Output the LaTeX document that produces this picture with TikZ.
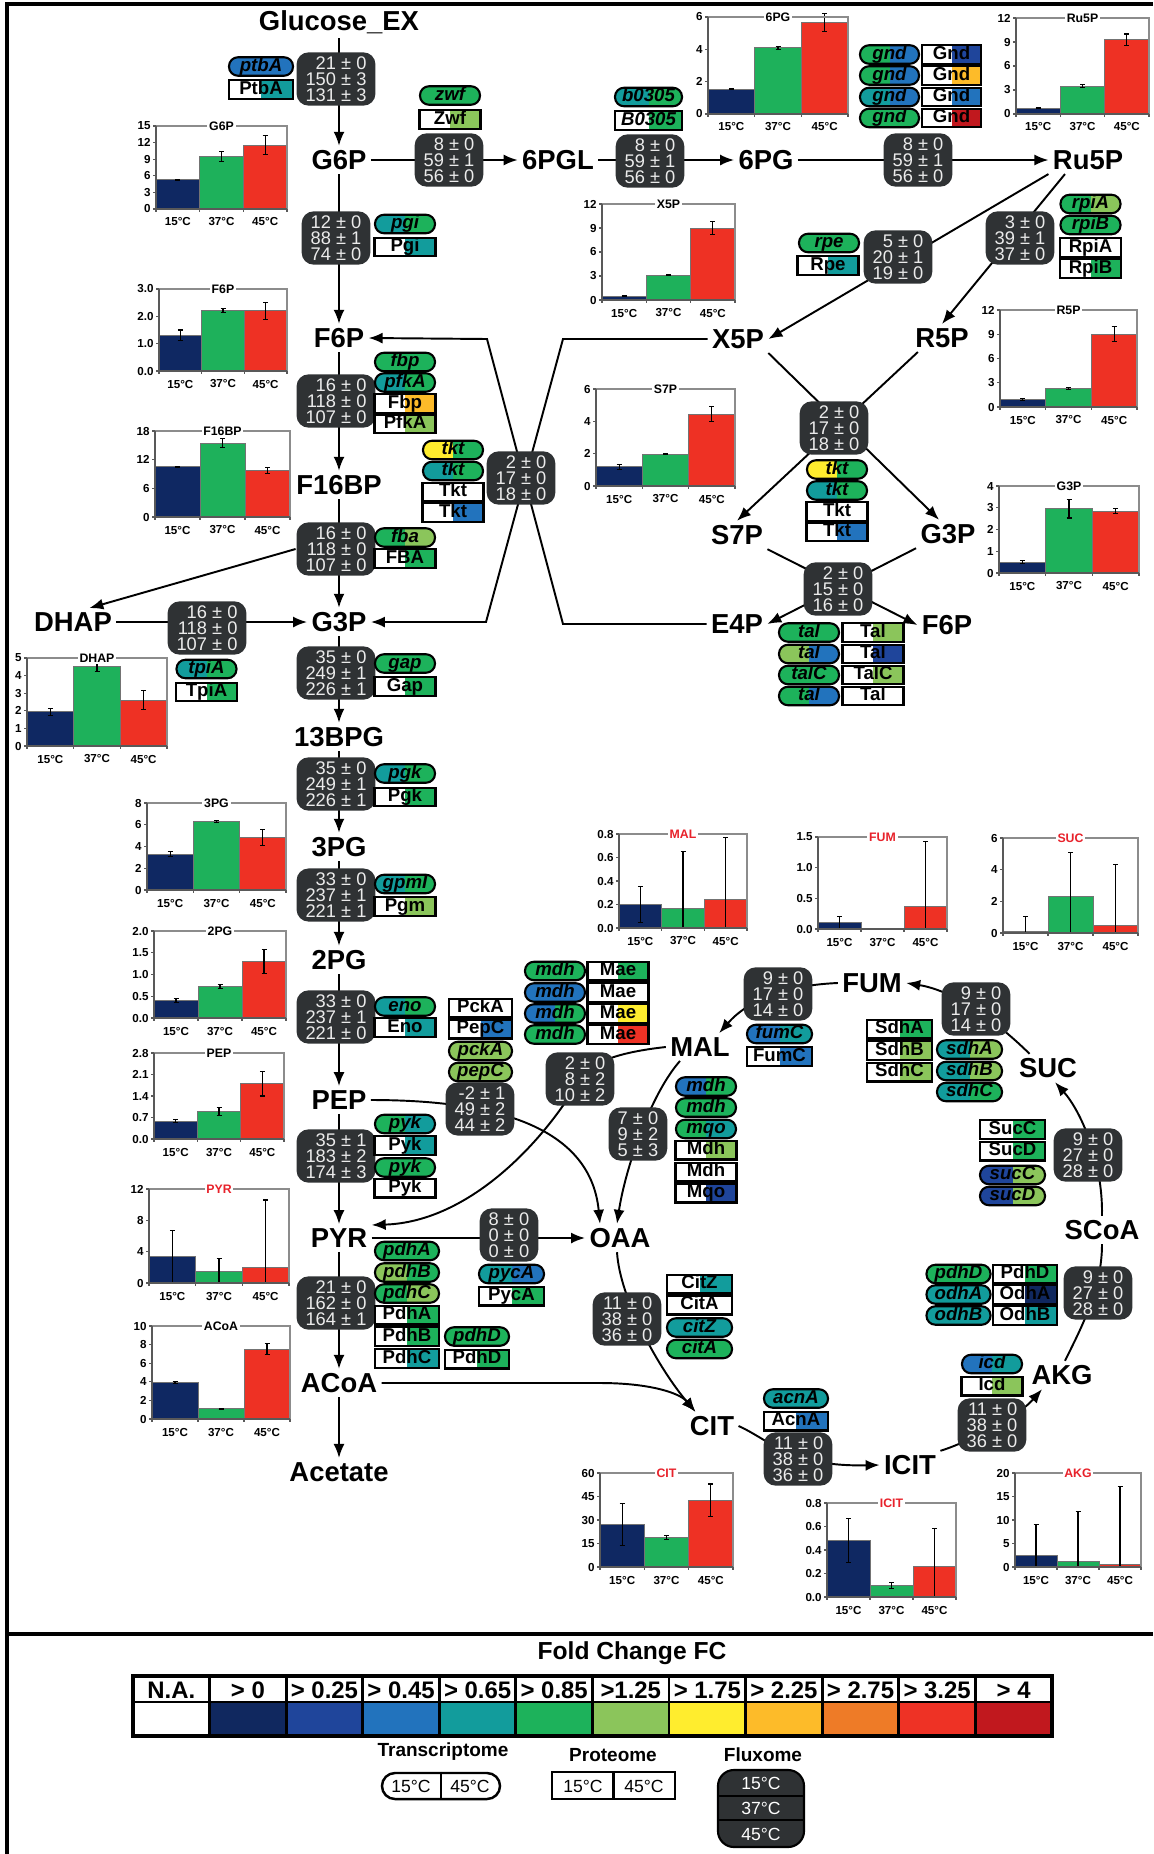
\documentclass[tikz,border=0pt]{standalone}
\usepackage{fontspec}
\setmainfont{Liberation Sans}
\usetikzlibrary{arrows.meta}

\definecolor{c0}{HTML}{10285F}
\definecolor{c1}{HTML}{1F459B}
\definecolor{c2}{HTML}{2273BD}
\definecolor{c3}{HTML}{129C9C}
\definecolor{c4}{HTML}{1DB25B}
\definecolor{c5}{HTML}{8BC55B}
\definecolor{c6}{HTML}{FFED2E}
\definecolor{c7}{HTML}{FDBB29}
\definecolor{c8}{HTML}{EE7B27}
\definecolor{c9}{HTML}{EE3225}
\definecolor{c10}{HTML}{C1181E}
\definecolor{c15}{HTML}{0F2862}
\definecolor{c37}{HTML}{1EB15B}
\definecolor{c45}{HTML}{EE3124}
\definecolor{fluxgray}{HTML}{2F3234}
\definecolor{titlered}{HTML}{E8222B}

% bar chart: title, x0, ytop, x1, ybot, ymax, ticks, bars v/e, title colour
\newcommand{\barchart}[9]{%
  \pgfmathsetmacro{\bw}{(#4-#2)/3}%
  \pgfmathsetmacro{\bh}{#5-#3}%
  \foreach \v/\e [count=\k from 0] in {#8} {%
    \pgfmathsetmacro{\xa}{#2+\k*\bw}%
    \pgfmathsetmacro{\xb}{\xa+\bw}%
    \pgfmathsetmacro{\xm}{\xa+\bw/2}%
    \pgfmathsetmacro{\yv}{#5-\v/#6*\bh}%
    \pgfmathsetmacro{\ylo}{#5-max(\v-\e,0)/#6*\bh}%
    \pgfmathsetmacro{\yhi}{#5-(\v+\e)/#6*\bh}%
    \ifcase\k\relax \def\bc{c15}\or \def\bc{c37}\else \def\bc{c45}\fi
    \filldraw[fill=\bc, draw=black!55, line width=0.25pt] (\xa,#5) rectangle (\xb,\yv);
    \draw[line width=0.3pt] (\xm,\ylo) -- (\xm,\yhi) (\xm-2.5,\ylo) -- (\xm+2.5,\ylo) (\xm-2.5,\yhi) -- (\xm+2.5,\yhi);
    \draw[chartaxis] (\xa,#5) -- (\xa,#5+3) (\xb,#5) -- (\xb,#5+3);
    \node[cticks] (#1-x\k) at (\xm,#5+13) {\ifcase\k\relax 15\or 37\else 45\fi°C};
  }%
  \draw[chartframe] (#2,#3) -- (#4,#3) -- (#4,#5);
  \draw[chartaxis] (#2,#3) -- (#2,#5) -- (#4,#5);
  \foreach \t [count=\j] in {#7} {%
    \pgfmathsetmacro{\yt}{#5-\t/#6*\bh}%
    \draw[chartaxis] (#2-3,\yt) -- (#2,\yt);
    \node[cticks, anchor=east] (#1-y\j) at (#2-3,\yt) {\t};
  }%
  \node[ctitle, text=#9] (chart-#1) at ({(#2+#4)/2},#3) {#1};
}

\begin{document}
\begin{tikzpicture}[
    x=0.01cm, y=-0.01cm,
    >={Latex[length=1.4mm,width=1.1mm]},
    line width=0.55pt,
    met/.style={font=\fontsize{7.8}{9}\selectfont\bfseries, inner sep=1pt},
    flux/.style={fill=fluxgray, rounded corners=1.2mm, text=white!92!black, align=right,
      inner xsep=0.9mm, inner ysep=0.4mm, minimum height=5.3mm, font=\fontsize{5.2}{4.6}\selectfont},
    halves/.style 2 args={path picture={
      \fill[#1, sharp corners] (path picture bounding box.south west) rectangle (path picture bounding box.north);
      \fill[#2, sharp corners] (path picture bounding box.south) rectangle (path picture bounding box.north east);}},
    gene/.style 2 args={draw, line width=0.6pt, rounded corners=0.9mm, minimum width=6mm, minimum height=1.85mm,
      inner sep=0pt, text height=3.8pt, text depth=1.1pt, halves={#1}{#2}, font=\fontsize{5.3}{5.3}\selectfont\bfseries\itshape},
    prot/.style 2 args={draw, line width=0.7pt, minimum width=6.1mm, minimum height=1.85mm,
      inner sep=0pt, text height=3.8pt, text depth=1.1pt, halves={#1}{#2}, font=\fontsize{5.3}{5.3}\selectfont\bfseries},
    cticks/.style={font=\fontsize{3.3}{3.5}\selectfont\bfseries, inner sep=0.4pt},
    ctitle/.style={font=\fontsize{3.5}{3.7}\selectfont\bfseries, fill=white, inner sep=0.5pt},
    chartframe/.style={draw=black!45, line width=0.3pt},
    chartaxis/.style={draw=black!65, line width=0.35pt},
    legtext/.style={font=\fontsize{6.8}{7}\selectfont\bfseries, inner sep=0pt},
    legsub/.style={font=\fontsize{5.4}{6}\selectfont\bfseries, inner sep=0pt},
    legsmall/.style={font=\fontsize{5}{5}\selectfont, inner sep=0pt},
  ]
  \useasboundingbox (0,0) rectangle (1153,1854);
  \draw[line width=0.9pt] (7,1854) -- (7,4) -- (1153,4);
  \draw[line width=0.9pt] (7,1634) -- (1153,1634);

  % metabolite concentration charts
  \barchart{G6P}{156}{126}{287}{209}{15}{0,3,6,9,12,15}{5.3/0.1,9.5/0.9,11.5/1.7}{black}
  \barchart{F6P}{159}{289}{287}{371}{3}{0.0,1.0,2.0,3.0}{1.3/0.2,2.2/0.07,2.2/0.3}{black}
  \barchart{F16BP}{155}{431}{290}{517}{18}{0,6,12,18}{10.5/0.1,15.5/1.0,9.8/0.6}{black}
  \barchart{DHAP}{27}{658}{167}{746}{5}{0,1,2,3,4,5}{1.95/0.2,4.5/0.25,2.6/0.55}{black}
  \barchart{3PG}{147}{803}{286}{890}{8}{0,2,4,6,8}{3.3/0.2,6.3/0.12,4.8/0.75}{black}
  \barchart{2PG}{154}{931}{286}{1018}{2}{0.0,0.5,1.0,1.5,2.0}{0.4/0.05,0.73/0.05,1.3/0.28}{black}
  \barchart{PEP}{154}{1053}{284}{1139}{2.8}{0.0,0.7,1.4,2.1,2.8}{0.58/0.05,0.9/0.12,1.8/0.4}{black}
  \barchart{PYR}{149}{1189}{289}{1283}{12}{0,4,8,12}{3.4/3.3,1.5/1.6,2.0/8.6}{titlered}
  \barchart{ACoA}{152}{1326}{290}{1419}{10}{0,2,4,6,8,10}{3.9/0.1,1.1/0.05,7.5/0.6}{black}
  \barchart{6PG}{708}{17}{848}{114}{6}{0,2,4,6}{1.55/0.03,4.1/0.1,5.65/0.55}{black}
  \barchart{Ru5P}{1016}{18}{1149}{114}{12}{0,3,6,9,12}{0.7/0.05,3.5/0.2,9.3/0.7}{black}
  \barchart{X5P}{602}{204}{735}{300}{12}{0,3,6,9,12}{0.5/0.02,3.1/0.05,9.0/0.8}{black}
  \barchart{R5P}{1000}{310}{1137}{407}{12}{0,3,6,9,12}{0.9/0.1,2.3/0.1,9.0/0.95}{black}
  \barchart{S7P}{596}{389}{735}{486}{6}{0,2,4,6}{1.2/0.15,1.95/0.03,4.45/0.45}{black}
  \barchart{G3P}{999}{486}{1139}{573}{4}{0,1,2,3,4}{0.5/0.07,2.95/0.42,2.85/0.12}{black}
  \barchart{MAL}{619}{834}{747}{928}{0.8}{0.0,0.2,0.4,0.6,0.8}{0.2/0.15,0.17/0.48,0.24/0.53}{titlered}
  \barchart{FUM}{818}{837}{947}{929}{1.5}{0.0,0.5,1.0,1.5}{0.1/0.11,0.0/0.0,0.36/1.06}{titlered}
  \barchart{SUC}{1003}{838}{1138}{933}{6}{0,2,4,6}{0.1/0.95,2.3/2.8,0.45/3.85}{titlered}
  \barchart{CIT}{600}{1473}{733}{1567}{60}{0,15,30,45,60}{27/13.5,18.8/1.5,42.5/10.5}{titlered}
  \barchart{ICIT}{827}{1503}{956}{1597}{0.8}{0.0,0.2,0.4,0.6,0.8}{0.48/0.19,0.095/0.025,0.26/0.32}{titlered}
  \barchart{AKG}{1015}{1473}{1141}{1567}{20}{0,5,10,15,20}{2.4/6.7,1.2/10.7,0.55/16.5}{titlered}

  % metabolites
  \node[met] (glc)   at (339,22)   {Glucose\_EX};
  \node[met] (G6P)   at (339,160)  {G6P};
  \node[met] (PGL)   at (558,160)  {6PGL};
  \node[met] (PG6)   at (766,160)  {6PG};
  \node[met] (Ru5P)  at (1088,160) {Ru5P};
  \node[met] (X5P)   at (738,339)  {X5P};
  \node[met] (R5P)   at (942,338)  {R5P};
  \node[met] (F6P)   at (339,338)  {F6P};
  \node[met] (F16BP) at (339,485)  {F16BP};
  \node[met] (S7P)   at (737,535)  {S7P};
  \node[met] (G3Pr)  at (948,534)  {G3P};
  \node[met] (DHAP)  at (73,622)   {DHAP};
  \node[met] (G3P)   at (339,622)  {G3P};
  \node[met] (E4P)   at (737,624)  {E4P};
  \node[met] (F6Pr)  at (947,625)  {F6P};
  \node[met] (BPG)   at (339,737)  {13BPG};
  \node[met] (PG3)   at (339,847)  {3PG};
  \node[met] (PG2)   at (339,960)  {2PG};
  \node[met] (PEP)   at (339,1100) {PEP};
  \node[met] (MAL)   at (700,1047) {MAL};
  \node[met] (FUM)   at (872,983)  {FUM};
  \node[met] (SUC)   at (1048,1068) {SUC};
  \node[met] (PYR)   at (339,1238) {PYR};
  \node[met] (OAA)   at (620,1238) {OAA};
  \node[met] (SCoA)  at (1102,1230) {SCoA};
  \node[met] (ACoA)  at (339,1383) {ACoA};
  \node[met] (AKG)   at (1062,1375) {AKG};
  \node[met] (CIT)   at (712,1426) {CIT};
  \node[met] (ICIT)  at (910,1465) {ICIT};
  \node[met] (Acet)  at (339,1472) {Acetate};

  % reactions
  \foreach \a/\b in {glc/G6P, G6P/PGL, PGL/PG6, PG6/Ru5P, G6P/F6P, F6P/F16BP, F16BP/G3P, DHAP/G3P,
      G3P/BPG, BPG/PG3, PG3/PG2, PG2/PEP, PEP/PYR, PYR/ACoA, ACoA/Acet, PYR/OAA}
    \draw[->] (\a) -- (\b);
  \draw[->] (Ru5P.south west) -- (X5P.east);
  \draw[->] ([xshift=-2.3mm]Ru5P.south) -- (R5P.north);
  \draw[->] (X5P.south east) -- ([xshift=2.3mm]G3Pr.north west);
  \draw[->] ([xshift=0.7mm]R5P.south west) -- (S7P.north);
  \draw[->] (S7P.south east) -- (F6Pr.west);
  \draw[->] (G3Pr.south west) -- (E4P.east);
  \coordinate (tkA) at (563,339);
  \coordinate (tkB) at (486,622);
  \coordinate (tkC) at (563,624);
  \coordinate (tkD) at (487,339);
  \draw[->] (X5P.west) -- (tkA) -- (tkB) -- (G3P.east);
  \draw[->] (E4P.west) -- (tkC) -- (tkD) -- (F6P.east);
  \draw[->] (PEP.east) .. controls (480,1100) and (590,1120) .. ([xshift=-2mm]OAA.north);
  \draw[->] (MAL.west) .. controls (620,1052) and (590,1062) .. (580,1079)
    .. controls (545,1140) and (470,1222) .. ([yshift=1.3mm]PYR.east);
  \draw[->] ([xshift=-2mm]MAL.south) .. controls (650,1095) and (625,1170) .. ([xshift=-0.3mm]OAA.north);
  \draw[->] ([xshift=-0.3mm]OAA.south) .. controls (620,1300) and (660,1370) .. ([xshift=1mm]CIT.north west);
  \draw[->] (ACoA.east) -- (600,1383) .. controls (650,1383) and (680,1393) .. ([xshift=1mm]CIT.north west);
  \draw[->] (CIT.east) .. controls (770,1440) and (790,1467) .. (ICIT.west);
  \draw[->] (ICIT.north east) .. controls (960,1445) and (1015,1420) .. ([xshift=1.5mm]AKG.south west);
  \draw ([xshift=0.3mm]AKG.north) .. controls (1080,1330) and (1102,1290) .. (SCoA.south);
  \draw[->] (SCoA.north) .. controls (1103,1160) and (1080,1110) .. ([xshift=0.7mm]SUC.south);
  \draw[->] ([xshift=1.5mm]SUC.north west) .. controls (990,1015) and (950,990) .. (FUM.east);
  \draw[->] (FUM.west) .. controls (790,985) and (750,998) .. ([xshift=-1.5mm]MAL.north east);

  % fluxes 15/37/45 C
  \node[flux] (fxpts) at (336,79)    {21 ± 0\\150 ± 3\\131 ± 3};
  \node[flux] (fxpgi) at (336,238)   {12 ± 0\\88 ± 1\\74 ± 0};
  \node[flux] (fxpfk) at (336,401)   {16 ± 0\\118 ± 0\\107 ± 0};
  \node[flux] (fxfba) at (336,549)   {16 ± 0\\118 ± 0\\107 ± 0};
  \node[flux] (fxtpi) at (207,628)   {16 ± 0\\118 ± 0\\107 ± 0};
  \node[flux] (fxgap) at (336,673)   {35 ± 0\\249 ± 1\\226 ± 1};
  \node[flux] (fxpgk) at (336,784)   {35 ± 0\\249 ± 1\\226 ± 1};
  \node[flux] (fxpgm) at (336,895)   {33 ± 0\\237 ± 1\\221 ± 1};
  \node[flux] (fxeno) at (336,1017)  {33 ± 0\\237 ± 1\\221 ± 0};
  \node[flux] (fxpyk) at (336,1156)  {35 ± 1\\183 ± 2\\174 ± 3};
  \node[flux] (fxpdh) at (336,1303)  {21 ± 0\\162 ± 0\\164 ± 1};
  \node[flux] (fxzwf) at (449,160)   {8 ± 0\\59 ± 1\\56 ± 0};
  \node[flux] (fxpgl) at (650,161)   {8 ± 0\\59 ± 1\\56 ± 0};
  \node[flux] (fxgnd) at (918,160)   {8 ± 0\\59 ± 1\\56 ± 0};
  \node[flux] (fxrpe) at (898,257)   {5 ± 0\\20 ± 1\\19 ± 0};
  \node[flux] (fxrpi) at (1020,238)  {3 ± 0\\39 ± 1\\37 ± 0};
  \node[flux] (fxtkA) at (521,478)   {2 ± 0\\17 ± 0\\18 ± 0};
  \node[flux] (fxtkB) at (834,428)   {2 ± 0\\17 ± 0\\18 ± 0};
  \node[flux] (fxtal) at (838,589)   {2 ± 0\\15 ± 0\\16 ± 0};
  \node[flux] (fxppc) at (480,1109)  {-2 ± 1\\49 ± 2\\44 ± 2};
  \node[flux] (fxmae) at (580,1079)  {2 ± 0\\8 ± 2\\10 ± 2};
  \node[flux] (fxpyc) at (509,1235)  {8 ± 0\\0 ± 0\\0 ± 0};
  \node[flux] (fxmdh) at (638,1134)  {7 ± 0\\9 ± 2\\5 ± 3};
  \node[flux] (fxfum) at (778,994)   {9 ± 0\\17 ± 0\\14 ± 0};
  \node[flux] (fxsdh) at (976,1009)  {9 ± 0\\17 ± 0\\14 ± 0};
  \node[flux] (fxsuc) at (1088,1155) {9 ± 0\\27 ± 0\\28 ± 0};
  \node[flux] (fxodh) at (1098,1293) {9 ± 0\\27 ± 0\\28 ± 0};
  \node[flux] (fxicd) at (992,1425)  {11 ± 0\\38 ± 0\\36 ± 0};
  \node[flux] (fxacn) at (798,1459)  {11 ± 0\\38 ± 0\\36 ± 0};
  \node[flux] (fxcs)  at (627,1319)  {11 ± 0\\38 ± 0\\36 ± 0};
  \draw[->] (fxfba.west) -- ([xshift=-2.7mm]DHAP.north east);

  % transcripts (pills) and proteins (boxes), 15 C left / 45 C right
  \node[gene={c2}{c2}, minimum width=6.4mm] (ptbA) at (261,66.5) {ptbA};
  \node[prot={white}{c3}, minimum width=6.4mm] (PtbA) at (261,89.5) {PtbA};
  \node[gene={c4}{c4}] (zwf) at (450,95.5) {zwf};
  \node[prot={white}{c5}] (Zwf) at (450,119.5) {Zwf};
  \node[gene={c3}{c4}, minimum width=6.7mm] (b0305) at (648.5,97) {b0305};
  \node[prot={white}{c4}, minimum width=6.7mm] (B0305) at (648.5,120.5) {\itshape B0305};
  \foreach \y/\ga/\gb/\pb [count=\i] in {54.5/c4/c2/c1, 75.5/c4/c2/c7, 97/c3/c2/c2, 118/c4/c4/c10} {
    \node[gene={\ga}{\gb}, minimum width=5.9mm] (gnd\i) at (889.5,\y) {gnd};
    \node[prot={white}{\pb}, minimum width=5.9mm] (Gnd\i) at (951.5,\y) {Gnd};
  }
  \node[gene={c4}{c4}] (rpe) at (829,243) {rpe};
  \node[prot={white}{c3}] (Rpe) at (828,265.5) {Rpe};
  \node[gene={c4}{c5}] (rpiA) at (1090.5,204) {rpiA};
  \node[gene={c4}{c4}] (rpiB) at (1090.5,225) {rpiB};
  \node[prot={white}{white}] (RpiA) at (1090.5,247.5) {RpiA};
  \node[prot={white}{c4}] (RpiB) at (1090.5,268.5) {RpiB};
  \node[gene={c3}{c4}] (pgi) at (405,224) {pgi};
  \node[prot={white}{c3}] (Pgi) at (405,247) {Pgi};
  \node[gene={c4}{c4}] (fbp) at (405,362) {fbp};
  \node[gene={c3}{c4}] (pfkA) at (405,382.5) {pfkA};
  \node[prot={white}{c7}] (Fbp) at (405,403.5) {Fbp};
  \node[prot={white}{c5}] (PfkA) at (405,424) {PfkA};
  \foreach \x/\n/\yo in {453/A/0, 837/B/19.5} {
    \node[gene={c6}{c4}] (tktA\n) at (\x,450+\yo) {tkt};
    \node[gene={c3}{c4}] (tktB\n) at (\x,471+\yo) {tkt};
    \node[prot={white}{white}] (TktA\n) at (\x,492+\yo) {Tkt};
    \node[prot={white}{c2}] (TktB\n) at (\x,512.5+\yo) {Tkt};
  }
  \node[gene={c4}{c5}] (fba) at (405,537.5) {fba};
  \node[prot={white}{c4}] (FBA) at (405,558.5) {FBA};
  \node[gene={c3}{c4}] (tpiA) at (206.5,669) {tpiA};
  \node[prot={white}{c4}] (TpiA) at (206.5,692) {TpiA};
  \foreach \y/\t/\ga/\gb/\pb [count=\i] in {632.5/tal/c4/c4/c5, 654/tal/c5/c2/c1, 675/talC/c4/c4/c5, 696/tal/c4/c2/white} {
    \node[gene={\ga}{\gb}] (tal\i) at (809,\y) {\t};
    \node[prot={white}{\pb}] (Tal\i) at (873,\y) {\ifnum\i=3 TalC\else Tal\fi};
  }
  \node[gene={c4}{c4}] (gap) at (405,663.5) {gap};
  \node[prot={white}{c4}] (Gap) at (405,686.5) {Gap};
  \node[gene={c3}{c4}] (pgk) at (405,773.5) {pgk};
  \node[prot={white}{c4}] (Pgk) at (405,797) {Pgk};
  \node[gene={c3}{c4}] (gpmI) at (405,884) {gpmI};
  \node[prot={white}{c5}] (Pgm) at (405,906.5) {Pgm};
  \node[gene={c3}{c4}] (eno) at (405,1006.5) {eno};
  \node[prot={white}{c3}] (Eno) at (405,1027.5) {Eno};
  \node[gene={c4}{c3}] (pyk1) at (405,1124) {pyk};
  \node[prot={white}{c3}] (Pyk1) at (405,1145.5) {Pyk};
  \node[gene={c4}{c4}] (pyk2) at (405,1167.5) {pyk};
  \node[prot={white}{white}] (Pyk2) at (405,1188) {Pyk};
  \node[prot={white}{white}, minimum width=6.3mm] (PckA) at (480.5,1008) {PckA};
  \node[prot={white}{c2}, minimum width=6.3mm] (PepC) at (480.5,1029) {PepC};
  \node[gene={c5}{c5}, minimum width=6.3mm] (pckA) at (480.5,1051) {pckA};
  \node[gene={c5}{c5}, minimum width=6.3mm] (pepC) at (480.5,1072) {pepC};
  \foreach \y/\ga/\gb/\pb [count=\i] in {971/c4/c4/c4, 992.5/c2/c2/white, 1013.5/c2/c4/c6, 1034.5/c4/c4/c9} {
    \node[gene={\ga}{\gb}] (mdhM\i) at (555,\y) {mdh};
    \node[prot={white}{\pb}] (Mae\i) at (618,\y) {Mae};
  }
  \node[gene={c2}{c4}] (mdh1) at (706,1086.5) {mdh};
  \node[gene={c4}{c4}] (mdh2) at (706,1107.5) {mdh};
  \node[gene={c4}{c3}] (mqo) at (706,1129) {mqo};
  \node[prot={white}{c5}] (Mdh1) at (706,1150) {Mdh};
  \node[prot={white}{white}] (Mdh2) at (706,1172) {Mdh};
  \node[prot={white}{c1}] (Mqo) at (706,1193) {Mqo};
  \node[gene={c4}{c4}, minimum width=6.4mm] (pdhA) at (407,1251) {pdhA};
  \node[gene={c5}{c4}, minimum width=6.4mm] (pdhB) at (407,1272.5) {pdhB};
  \node[gene={c4}{c5}, minimum width=6.4mm] (pdhC) at (407,1293.5) {pdhC};
  \node[prot={white}{c4}, minimum width=6.4mm] (PdhA) at (407,1315) {PdhA};
  \node[prot={white}{c4}, minimum width=6.4mm] (PdhB) at (407,1336.5) {PdhB};
  \node[prot={white}{c3}, minimum width=6.4mm] (PdhC) at (407,1358.5) {PdhC};
  \node[gene={c4}{c4}, minimum width=6.4mm] (pdhD) at (477,1336.5) {pdhD};
  \node[prot={white}{c4}, minimum width=6.4mm] (PdhD) at (477,1359) {PdhD};
  \node[gene={c3}{c2}, minimum width=6.5mm] (pycA) at (511.5,1274) {pycA};
  \node[prot={white}{c4}, minimum width=6.5mm] (PycA) at (511.5,1296) {PycA};
  \node[prot={white}{c3}, minimum width=6.5mm] (CitZ) at (699.5,1284) {CitZ};
  \node[prot={white}{white}, minimum width=6.5mm] (CitA) at (699.5,1305) {CitA};
  \node[gene={c3}{c3}, minimum width=6.5mm] (citZ) at (699.5,1327.5) {citZ};
  \node[gene={c4}{c4}, minimum width=6.5mm] (citA) at (699.5,1349) {citA};
  \node[gene={c3}{c3}, minimum width=6.4mm] (acnA) at (796,1398.5) {acnA};
  \node[prot={white}{c2}, minimum width=6.4mm] (AcnA) at (796,1421) {AcnA};
  \node[gene={c2}{c3}] (icd) at (992,1364) {icd};
  \node[prot={white}{c5}] (Icd) at (992,1386) {Icd};
  \foreach \y/\g/\p/\ga/\pb [count=\i] in {1274/pdhD/PdhD/c4/c4, 1294.5/odhA/OdhA/c3/c0, 1315.5/odhB/OdhB/c3/c3} {
    \node[gene={\ga}{\ga}, minimum width=6.4mm] (odh\i) at (958.5,\y) {\g};
    \node[prot={white}{\pb}, minimum width=6.4mm] (Odh\i) at (1025,\y) {\p};
  }
  \node[prot={white}{c4}, minimum width=6.5mm] (SucC) at (1012.5,1129.5) {SucC};
  \node[prot={white}{c4}, minimum width=6.5mm] (SucD) at (1012.5,1151) {SucD};
  \node[gene={c1}{c5}, minimum width=6.5mm] (sucC) at (1012.5,1175) {sucC};
  \node[gene={c1}{c5}, minimum width=6.5mm] (sucD) at (1012.5,1196) {sucD};
  \node[prot={white}{c4}, minimum width=6.5mm] (SdhA) at (899.5,1029) {SdhA};
  \node[prot={white}{c5}, minimum width=6.5mm] (SdhB) at (899.5,1050.5) {SdhB};
  \node[prot={white}{c5}, minimum width=6.5mm] (SdhC) at (899.5,1072) {SdhC};
  \node[gene={c3}{c5}, minimum width=6.5mm] (sdhA) at (969.5,1049.5) {sdhA};
  \node[gene={c3}{c5}, minimum width=6.5mm] (sdhB) at (969.5,1071) {sdhB};
  \node[gene={c3}{c4}, minimum width=6.5mm] (sdhC) at (969.5,1092) {sdhC};
  \node[gene={c2}{c3}, minimum width=6.5mm] (fumC) at (779.5,1034) {fumC};
  \node[prot={white}{c2}, minimum width=6.5mm] (FumC) at (779.5,1056.5) {FumC};

  % legend
  \node[font=\fontsize{7}{7}\selectfont\bfseries] (fctitle) at (632,1653) {Fold Change FC};
  \foreach \lab/\col [count=\i from 0] in {N.A./white, {> 0}/c0, {> 0.25}/c1, {> 0.45}/c2, {> 0.65}/c3,
      {> 0.85}/c4, {>1.25}/c5, {> 1.75}/c6, {> 2.25}/c7, {> 2.75}/c8, {> 3.25}/c9, {> 4}/c10} {
    \pgfmathsetmacro{\xa}{133+\i*76.58}
    \fill[\col] (\xa,1702) rectangle ++(76.58,34);
    \draw[line width=0.8pt] (\xa,1676) -- (\xa,1736);
    \node[legtext] (fc-\i) at (\xa+38.3,1690) {\lab};
  }
  \draw[line width=0.8pt] (133,1702) -- (1052,1702);
  \draw[line width=1.1pt] (133,1676) rectangle (1052,1736);

  \node[legsub] (lgT) at (443,1752) {Transcriptome};
  \node[draw, line width=0.7pt, rounded corners=1.3mm, minimum width=11.8mm, minimum height=2.6mm] (lgTbox) at (441,1786) {};
  \draw[line width=0.7pt] (lgTbox.north) -- (lgTbox.south);
  \node[legsmall] (lgT15) at (411,1786) {15°C};
  \node[legsmall] (lgT45) at (470,1786) {45°C};

  \node[legsub] (lgP) at (613,1755) {Proteome};
  \node[draw, line width=0.7pt, minimum width=12.3mm, minimum height=2.7mm] (lgPbox) at (613.5,1785.5) {};
  \draw[line width=0.7pt] (lgPbox.north) -- (lgPbox.south);
  \node[legsmall] (lgP15) at (583,1786) {15°C};
  \node[legsmall] (lgP45) at (644,1786) {45°C};

  \node[legsub] (lgF) at (763,1755) {Fluxome};
  \node[fill=fluxgray, draw=black, line width=0.6pt, rounded corners=1.6mm, minimum width=8.6mm, minimum height=7.7mm] (lgFbox) at (761,1808.5) {};
  \draw[line width=0.6pt] (718,1796) -- (804,1796) (718,1820) -- (804,1820);
  \foreach \y/\t in {1783/15, 1808/37, 1834/45}
    \node[legsmall, text=white] (lgF\t) at (761,\y) {\t°C};
\end{tikzpicture}
\end{document}
